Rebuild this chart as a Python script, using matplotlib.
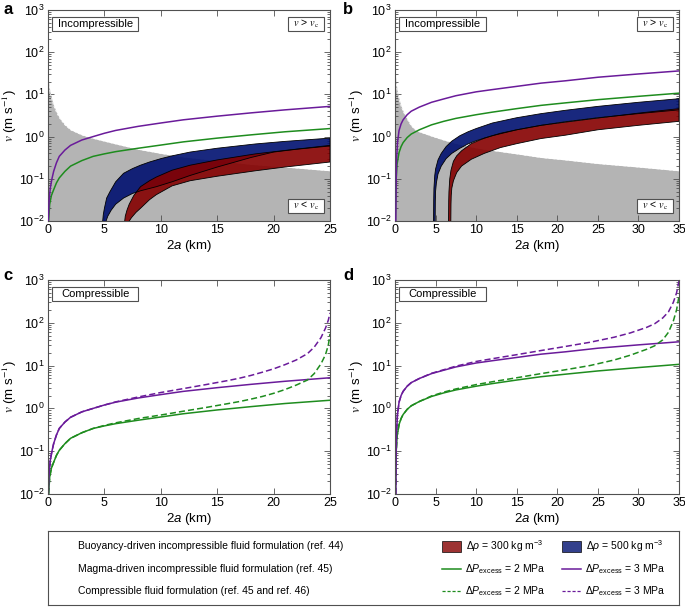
import numpy as np
import matplotlib
matplotlib.use("Agg")
import matplotlib.pyplot as plt
from matplotlib.patches import Rectangle

plt.rcParams['font.family'] = ['Liberation Sans', 'DejaVu Sans']
plt.rcParams['mathtext.fontset'] = 'custom'
plt.rcParams['mathtext.rm'] = 'Liberation Sans'
plt.rcParams['mathtext.it'] = 'Liberation Sans:italic'
plt.rcParams['mathtext.bf'] = 'Liberation Sans:bold'

# ---- panel a (incompresible, 0-25 km) ----
vc_a_x = [0, 0.1, 0.25, 0.5, 0.75, 1, 1.5, 2, 3, 4, 5, 6, 8, 10, 12, 15, 18, 21, 25]
vc_a = [25, 15, 9.5, 5.5, 3.8, 2.8, 1.9, 1.45, 1.1, 0.91, 0.78, 0.67, 0.5, 0.4, 0.33, 0.27, 0.22, 0.19, 0.155]

purple_a_x = [0.03, 0.1, 0.2, 0.35, 0.5, 0.75, 1, 1.5, 2, 3, 4, 5, 6, 8, 10, 12, 15, 18, 21, 25]
purple_a = [0.01, 0.03, 0.06, 0.1, 0.15, 0.24, 0.34, 0.48, 0.62, 0.83, 1.0, 1.2, 1.4, 1.75, 2.1, 2.5, 3.05, 3.65, 4.3, 5.2]
green_a_x = [0.05, 0.15, 0.3, 0.5, 0.75, 1, 1.5, 2, 3, 4, 5, 6, 8, 10, 12, 15, 18, 21, 25]
green_a = [0.01, 0.025, 0.04, 0.055, 0.08, 0.105, 0.15, 0.2, 0.27, 0.34, 0.39, 0.44, 0.53, 0.63, 0.75, 0.92, 1.1, 1.3, 1.55]

blue_up_a_x = [4.85, 4.9, 5.0, 5.2, 5.5, 6.0, 6.7, 7.5, 8.2, 9, 10, 11, 12.6, 15, 18.4, 21, 25]
blue_up_a = [0.01, 0.014, 0.02, 0.035, 0.05, 0.085, 0.135, 0.175, 0.21, 0.25, 0.3, 0.35, 0.43, 0.53, 0.67, 0.77, 0.92]
blue_lo_a_x = [5.15, 5.3, 5.6, 6.0, 6.7, 7.5, 8.2, 9.6, 11, 12.6, 15, 18, 20, 22, 25]
blue_lo_a = [0.01, 0.013, 0.018, 0.025, 0.035, 0.045, 0.052, 0.065, 0.085, 0.12, 0.19, 0.32, 0.43, 0.5, 0.6]
red_up_a_x = [6.8, 6.85, 7.0, 7.2, 7.6, 8.2, 9, 9.6, 11, 12.6, 15, 18.4, 21, 25]
red_up_a = [0.01, 0.013, 0.018, 0.025, 0.04, 0.065, 0.09, 0.11, 0.16, 0.21, 0.28, 0.39, 0.47, 0.62]
red_lo_a_x = [7.2, 7.4, 7.8, 8.2, 9, 9.6, 11, 12.6, 15, 18.4, 21, 25]
red_lo_a = [0.01, 0.012, 0.016, 0.02, 0.032, 0.042, 0.068, 0.09, 0.115, 0.155, 0.19, 0.25]

# ---- panel b (incompresible, 0-35 km) ----
vc_b_x = [0, 0.1, 0.25, 0.5, 0.75, 1, 1.5, 2, 2.5, 3, 4.5, 6, 7.5, 10, 12, 15, 18, 21, 25, 30, 35]
vc_b = [35, 22, 13, 7.8, 5.3, 4.0, 2.6, 1.8, 1.45, 1.3, 1.03, 0.83, 0.69, 0.54, 0.47, 0.39, 0.32, 0.28, 0.23, 0.19, 0.155]

purple_b_x = [0.1, 0.15, 0.2, 0.3, 0.5, 0.75, 1, 1.5, 2, 3, 4.5, 6, 7.5, 10, 12, 15, 18, 21, 25, 30, 35]
purple_b = [0.01, 0.1, 0.3, 0.7, 1.4, 2.0, 2.5, 3.3, 4.0, 5.0, 6.5, 7.8, 9.3, 11.5, 13, 15.5, 18.5, 21, 25.5, 30.5, 36]
green_b_x = [0.05, 0.1, 0.15, 0.25, 0.5, 0.75, 1, 1.5, 2, 3, 4.5, 6, 7.5, 10, 12, 15, 18, 21, 25, 30, 35]
green_b = [0.01, 0.05, 0.1, 0.22, 0.42, 0.58, 0.72, 0.95, 1.15, 1.45, 1.9, 2.3, 2.7, 3.3, 3.8, 4.6, 5.5, 6.3, 7.5, 9.0, 10.7]

blue_up_b_x = [4.75, 4.77, 4.8, 4.9, 5.0, 5.3, 5.7, 6.3, 7, 8, 9, 10, 12, 15, 18, 21, 25, 30, 35]
blue_up_b = [0.01, 0.03, 0.06, 0.12, 0.17, 0.28, 0.4, 0.58, 0.78, 1.05, 1.3, 1.55, 2.1, 2.8, 3.5, 4.2, 5.2, 6.5, 7.9]
blue_lo_b_x = [4.95, 4.97, 5.0, 5.1, 5.3, 5.7, 6.3, 7, 8, 9, 10, 12, 15, 18, 21, 25, 30, 35]
blue_lo_b = [0.01, 0.03, 0.05, 0.08, 0.13, 0.2, 0.3, 0.4, 0.53, 0.67, 0.8, 1.05, 1.45, 1.85, 2.25, 2.8, 3.5, 4.3]
red_up_b_x = [6.6, 6.62, 6.65, 6.75, 6.9, 7.2, 7.6, 8.2, 9.4, 11, 13, 15, 18, 21, 25, 30, 35]
red_up_b = [0.01, 0.03, 0.05, 0.1, 0.16, 0.26, 0.35, 0.46, 0.68, 0.92, 1.2, 1.45, 1.85, 2.2, 2.75, 3.6, 4.6]
red_lo_b_x = [6.88, 6.9, 6.93, 7.0, 7.2, 7.6, 8.2, 9.4, 11, 13, 15, 18, 21, 25, 30, 35]
red_lo_b = [0.01, 0.025, 0.04, 0.06, 0.09, 0.14, 0.2, 0.29, 0.4, 0.55, 0.68, 0.9, 1.08, 1.45, 1.85, 2.3]

# ---- panel c / d (compresible, lineas discontinuas) ----
purple_c_x = [0.03, 0.1, 0.2, 0.35, 0.5, 0.75, 1, 1.5, 2, 3, 4, 5, 6, 8, 10, 12, 14, 16, 17, 18, 19, 20,
              21, 22, 23, 23.6, 24.2, 24.6, 24.85, 25]
purple_c = [0.01, 0.03, 0.06, 0.1, 0.15, 0.24, 0.34, 0.48, 0.62, 0.83, 1.0, 1.2, 1.42, 1.85, 2.35, 2.9, 3.6,
            4.5, 5.1, 5.9, 7.0, 8.4, 10.5, 13.5, 19, 27, 45, 75, 115, 170]
green_c_x = [0.05, 0.15, 0.3, 0.5, 0.75, 1, 1.5, 2, 3, 4, 5, 6, 8, 10, 12, 14, 16, 17, 18, 19, 20, 21,
             22, 23, 23.6, 24.2, 24.6, 24.85, 25]
green_c = [0.01, 0.025, 0.04, 0.055, 0.08, 0.105, 0.15, 0.2, 0.27, 0.34, 0.4, 0.46, 0.58, 0.7, 0.86, 1.05,
           1.3, 1.45, 1.65, 1.9, 2.25, 2.75, 3.5, 4.6, 6.5, 11, 18, 30, 55]
purple_d_x = [0.1, 0.15, 0.2, 0.3, 0.5, 0.75, 1, 1.5, 2, 3, 4.5, 6, 7.5, 10, 12, 15, 18, 21, 24, 27, 29,
              31, 32, 33, 33.7, 34.3, 34.7, 35]
purple_d = [0.01, 0.1, 0.3, 0.7, 1.4, 2.0, 2.5, 3.3, 4.0, 5.0, 6.6, 8.0, 9.7, 12.5, 14.5, 18, 22.5, 28, 35,
            46, 58, 78, 95, 130, 180, 300, 500, 950]
green_d_x = [0.05, 0.1, 0.15, 0.25, 0.5, 0.75, 1, 1.5, 2, 3, 4.5, 6, 7.5, 10, 12, 15, 18, 21, 24, 27, 29,
             31, 32, 33, 33.7, 34.3, 34.7, 35]
green_d = [0.01, 0.05, 0.1, 0.22, 0.42, 0.58, 0.72, 0.95, 1.15, 1.45, 1.95, 2.4, 2.85, 3.6, 4.2, 5.2, 6.5,
           8.0, 10, 13.5, 17.5, 24, 29, 40, 60, 110, 200, 420]

xticks_a = [0, 5, 10, 15, 20, 25]
xticks_b = [0, 5, 10, 15, 20, 25, 30, 35]

PURPLE = '#6a1b9a'
GREEN = '#1e8c1e'
BLUE = '#001070'
RED = '#850000'
GRAY = '#b4b4b4'
SPINE = '#505050'

W, H = 685, 611
fig = plt.figure(figsize=(W / 100, H / 100), dpi=100)


def rect(x0, y0, x1, y1):
    # pixeles (origen arriba-izquierda) -> fraccion de figura
    return [x0 / W, 1 - y1 / H, (x1 - x0) / W, (y1 - y0) / H]


def base_axes(pos, xmax, xticks):
    ax = fig.add_axes(pos)
    ax.set_yscale('log')
    ax.set_xlim(0, xmax)
    ax.set_ylim(1e-2, 1e3)
    ax.set_xticks(xticks)
    ax.tick_params(which='both', direction='in', top=True, right=True, color=SPINE,
                   labelsize=9, width=0.6, pad=2.5)
    ax.tick_params(which='major', length=4)
    ax.tick_params(which='minor', length=2)
    for s in ax.spines.values():
        s.set_color(SPINE)
        s.set_linewidth(0.8)
    ax.set_xlabel(r'2$\mathit{a}$ (km)', fontsize=9.5, labelpad=1)
    ax.set_ylabel(r'$v$ (m s$^{-1}$)', fontsize=9.5, labelpad=0, math_fontfamily='stix')
    return ax


def caja(ax, x0, y0, x1, y1, texto, stix=False, fs=8):
    ax.add_patch(Rectangle((x0, y0), x1 - x0, y1 - y0, transform=ax.transAxes,
                           fc='white', ec=SPINE, lw=0.8, zorder=6))
    kw = dict(math_fontfamily='stix') if stix else {}
    ax.text((x0 + x1) / 2, (y0 + y1) / 2, texto, transform=ax.transAxes, ha='center',
            va='center', fontsize=fs, zorder=7, **kw)


def banda(ax, xu, yu, xl, yl, color):
    xs = np.concatenate([xu, xl[::-1]])
    ys = np.concatenate([yu, yl[::-1]])
    ax.fill(xs, ys, fc=color, ec='none', alpha=0.9, zorder=3)
    ax.plot(xs, ys, color='black', lw=0.6, zorder=3.5)


def incompresible(ax, xmax, vcx, vc, bu, bl, ru, rl, px, py, gx, gy):
    ax.fill_between(vcx, vc, 1e-2, color=GRAY, lw=0, zorder=1)
    ax.plot(vcx, vc, color='white', lw=0.6, ls=(0, (3, 2)), zorder=2)
    banda(ax, np.array(bu[0]), np.array(bu[1]), np.array(bl[0]), np.array(bl[1]), BLUE)
    banda(ax, np.array(ru[0]), np.array(ru[1]), np.array(rl[0]), np.array(rl[1]), RED)
    ax.plot(gx, gy, color=GREEN, lw=1.1, zorder=5)
    ax.plot(px, py, color=PURPLE, lw=1.1, zorder=5)
    caja(ax, 0.015, 0.90, 0.32, 0.968, 'Incompressible')
    caja(ax, 0.852, 0.90, 0.978, 0.968, r'$v$ > $v_{\rm c}$', stix=True, fs=7.5)
    caja(ax, 0.852, 0.038, 0.978, 0.105, r'$v$ < $v_{\rm c}$', stix=True, fs=7.5)


ax_a = base_axes(rect(48, 10, 330, 221), 25, xticks_a)
incompresible(ax_a, 25, vc_a_x, vc_a,
              (blue_up_a_x, blue_up_a), (blue_lo_a_x, blue_lo_a),
              (red_up_a_x, red_up_a), (red_lo_a_x, red_lo_a),
              purple_a_x, purple_a, green_a_x, green_a)

ax_b = base_axes(rect(395, 10, 679, 221), 35, xticks_b)
incompresible(ax_b, 35, vc_b_x, vc_b,
              (blue_up_b_x, blue_up_b), (blue_lo_b_x, blue_lo_b),
              (red_up_b_x, red_up_b), (red_lo_b_x, red_lo_b),
              purple_b_x, purple_b, green_b_x, green_b)

ax_c = base_axes(rect(48, 280, 330, 494), 25, xticks_a)
ax_c.plot(green_a_x, green_a, color=GREEN, lw=1.1)
ax_c.plot(purple_a_x, purple_a, color=PURPLE, lw=1.1)
ax_c.plot(green_c_x, green_c, color=GREEN, lw=1.1, ls=(0, (4, 2)))
ax_c.plot(purple_c_x, purple_c, color=PURPLE, lw=1.1, ls=(0, (4, 2)))
caja(ax_c, 0.015, 0.90, 0.32, 0.968, 'Compressible')

ax_d = base_axes(rect(395, 280, 679, 494), 35, xticks_b)
ax_d.plot(green_b_x, green_b, color=GREEN, lw=1.1)
ax_d.plot(purple_b_x, purple_b, color=PURPLE, lw=1.1)
ax_d.plot(green_d_x, green_d, color=GREEN, lw=1.1, ls=(0, (4, 2)))
ax_d.plot(purple_d_x, purple_d, color=PURPLE, lw=1.1, ls=(0, (4, 2)))
caja(ax_d, 0.015, 0.90, 0.32, 0.968, 'Compressible')

for lab, (px, py) in zip('abcd', [(3, 2), (343, 2), (3, 268), (343, 268)]):
    fig.text(px / W, 1 - py / H, lab, fontsize=12, weight='bold', va='top', ha='left')

# ---- leyenda ----
filas = ['Buoyancy-driven incompressible fluid formulation (ref. 44)',
         'Magma-driven incompressible fluid formulation (ref. 45)',
         'Compressible fluid formulation (ref. 45 and ref. 46)']
dens_labels = [r'$\Delta\rho$ = 300 kg m$^{-3}$', r'$\Delta\rho$ = 500 kg m$^{-3}$']
pres_labels = [r'$\Delta P_{\rm excess}$ = 2 MPa', r'$\Delta P_{\rm excess}$ = 3 MPa']

lx0, ly0, lx1, ly1 = 48, 531, 679, 605
leg = fig.add_axes(rect(lx0, ly0, lx1, ly1))
leg.set_xlim(lx0, lx1)
leg.set_ylim(ly1, ly0)
leg.set_xticks([])
leg.set_yticks([])
for s in leg.spines.values():
    s.set_color(SPINE)
    s.set_linewidth(0.8)

rows_y = [546, 569, 591]
for y, t in zip(rows_y, filas):
    leg.text(78, y, t, fontsize=7.5, va='center', ha='left')

cols_x = [442, 562]
for cx, col, t in zip(cols_x, [RED, BLUE], dens_labels):
    leg.add_patch(Rectangle((cx, rows_y[0] - 5.5), 19, 11, fc=col, ec='black', lw=0.6, alpha=0.8))
    leg.text(cx + 24, rows_y[0], t, fontsize=7.5, va='center', ha='left')
for cx, col, t in zip(cols_x, [GREEN, PURPLE], pres_labels):
    leg.plot([cx, cx + 19], [rows_y[1], rows_y[1]], color=col, lw=1.1)
    leg.text(cx + 23, rows_y[1], t, fontsize=7.5, va='center', ha='left')
    leg.plot([cx, cx + 19], [rows_y[2], rows_y[2]], color=col, lw=0.9, ls=(0, (2.5, 1.5)))
    leg.text(cx + 23, rows_y[2], t, fontsize=7.5, va='center', ha='left')

fig.savefig('out.png', dpi=100)
